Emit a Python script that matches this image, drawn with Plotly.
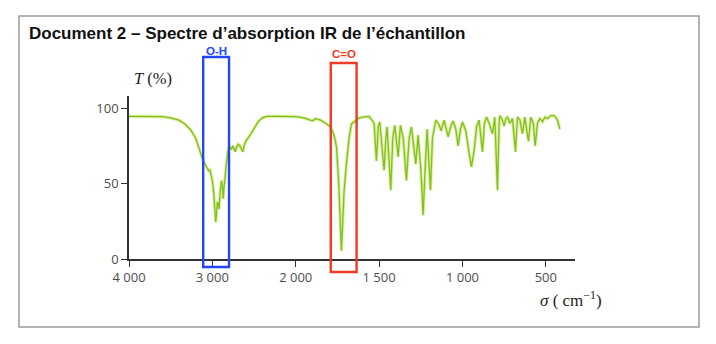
import plotly.graph_objects as go

# ---- data ----
wavenumber = [4000, 3900, 3800, 3700, 3600, 3500, 3400, 3330, 3260, 3200, 3150, 3110, 3080, 3060, 3045,
              3030, 3015, 3000, 2985, 2970, 2960, 2950, 2940, 2930, 2920, 2905, 2890, 2880, 2870, 2860,
              2850, 2835, 2820, 2805, 2785, 2770, 2755, 2740, 2725, 2710, 2690, 2670, 2650, 2635, 2620,
              2600, 2560, 2500, 2450, 2400, 2350, 2200, 2100, 2000, 1950, 1920, 1900, 1880, 1850, 1815,
              1790, 1770, 1755, 1742, 1732, 1726, 1720, 1710, 1696, 1680, 1666, 1640, 1620, 1598, 1560,
              1530, 1516, 1505, 1496, 1470, 1460, 1452, 1430, 1418, 1406, 1386, 1372, 1355, 1336, 1320,
              1306, 1280, 1266, 1250, 1236, 1224, 1212, 1192, 1180, 1160, 1140, 1128, 1110, 1086, 1070,
              1056, 1040, 1026, 1012, 1000, 980, 960, 946, 930, 915, 900, 880, 868, 856, 840,
              820, 806, 790, 780, 776, 760, 750, 740, 730, 715, 700, 682, 670, 655, 640,
              626, 604, 590, 575, 564, 550, 535, 520, 505, 490, 470, 450, 430, 416]
transmittance = [94.5, 94.5, 94.5, 94.5, 94.3, 93.5, 92, 89.5, 85.5, 80, 72, 65, 62, 60, 58.5,
                 59, 56, 52, 45, 32, 24.5, 30, 38, 36, 33, 45, 52, 48, 40, 48,
                 52, 62, 70, 74, 74, 72.5, 75, 73, 71, 74, 76, 75, 72, 71, 75,
                 78, 81, 87, 91, 93.5, 94.5, 94.5, 94.3, 94.3, 93.5, 92, 91.5, 93, 92, 89.5,
                 87.5, 82, 74, 50, 18, 5.5, 20, 45, 63, 80, 89.5, 92, 93.5, 94, 94.5,
                 90, 65, 88, 90.8, 58.8, 80, 87.5, 45.6, 80, 88.6, 67.6, 88.6, 80, 52, 80,
                 87.5, 63, 82, 60, 29, 60, 86, 45.6, 80, 92, 89, 85, 92, 81, 88,
                 91.4, 86, 75, 86, 90.8, 85, 70, 61, 72, 88, 92, 71, 90, 94, 90,
                 83, 94, 45.6, 90, 95, 92, 88, 93, 94, 90, 93, 71, 94, 92, 83,
                 94, 78, 94, 90, 75, 90, 93, 91, 94, 93, 95, 95, 92, 86]

tick_values = [4000, 3000, 2000, 1500, 1000, 500]
tick_labels = ["4 000", "3 000", "2 000", "1 500", "1 000", "500"]
y_ticks = [0, 50, 100]
bands = [("O-H", 3110, 2800, "#2346f5"), ("C=O", 1790, 1635, "#ee3b24")]

# ---- split IR scale: 1000 cm-1 per unit above 2000, 500 cm-1 per unit below ----
def u(s):
    return (4000 - s) / 1000 if s >= 2000 else 2 + (2000 - s) / 500

W, H = 716, 344
L, R, T, B = 129, 141, 96, 85
pw, ph = W - L - R, H - T - B
XMAX = u(325)
YMAX = 108

def px(xpix):
    return (xpix - L) / pw

def py(ypix):
    return (H - B - ypix) / ph

xu = [u(s) for s in wavenumber]

fig = go.Figure()
fig.add_trace(go.Scatter(x=xu, y=transmittance, mode="lines",
                         line=dict(color="rgba(205,232,120,0.75)", width=3.2),
                         hoverinfo="skip", showlegend=False))
fig.add_trace(go.Scatter(x=xu, y=transmittance, mode="lines",
                         line=dict(color="#80c11f", width=1.3),
                         showlegend=False))

shapes = [dict(type="rect", xref="paper", yref="paper",
               x0=px(19), x1=px(699), y0=py(16), y1=py(327),
               line=dict(color="#9a9a9a", width=1.5), fillcolor="rgba(0,0,0,0)", layer="below")]
annotations = []
box_tops = {"O-H": 57, "C=O": 63}
box_bottoms = {"O-H": 267, "C=O": 272}
label_y = {"O-H": 50.5, "C=O": 54}
for name, s0, s1, col in bands:
    x0 = u(s0) / XMAX
    x1 = u(s1) / XMAX
    shapes.append(dict(type="rect", xref="paper", yref="paper",
                       x0=x0, x1=x1, y0=py(box_bottoms[name]), y1=py(box_tops[name]),
                       line=dict(color=col, width=2.4), fillcolor="rgba(0,0,0,0)"))
    annotations.append(dict(xref="paper", yref="paper", x=(x0 + x1) / 2, y=py(label_y[name]),
                            text="<b>%s</b>" % name, showarrow=False, xanchor="center", yanchor="middle",
                            font=dict(family="Liberation Sans, Arial", size=11.5, color=col)))

annotations += [
    dict(xref="paper", yref="paper", x=px(27), y=py(34), xanchor="left", yanchor="middle",
         text="<b>Document 2 – Spectre d’absorption IR de l’échantillon</b>", showarrow=False,
         font=dict(family="Liberation Sans, Arial", size=17, color="#111")),
    dict(xref="paper", yref="paper", x=px(153), y=py(78), xanchor="center", yanchor="middle",
         text="<i>T</i> (%)", showarrow=False,
         font=dict(family="Liberation Serif, DejaVu Serif", size=16.5, color="#222")),
    dict(xref="paper", yref="paper", x=px(571), y=py(299), xanchor="center", yanchor="middle",
         text="<i>σ</i> ( cm<sup>−1</sup>)", showarrow=False,
         font=dict(family="Liberation Serif, DejaVu Serif", size=17, color="#222")),
    dict(xref="x", yref="y", x=0, y=YMAX + 0.8, ax=0, ay=10, text="", showarrow=True,
         arrowhead=2, arrowsize=1, arrowwidth=1.5, arrowcolor="#333"),
]

tick_font = dict(family="Open Sans, Noto Sans", size=13, color="#4d4d4d")
fig.update_layout(
    width=W, height=H, margin=dict(l=L, r=R, t=T, b=B),
    paper_bgcolor="white", plot_bgcolor="white",
    shapes=shapes, annotations=annotations,
    xaxis=dict(range=[0, XMAX], tickvals=[u(v) for v in tick_values], ticktext=tick_labels,
               showline=True, linecolor="#333", linewidth=1.5, ticks="outside", ticklen=6,
               tickcolor="#333", tickwidth=1.3, showgrid=False, zeroline=False, tickfont=tick_font),
    yaxis=dict(range=[0, YMAX], tickvals=y_ticks, showline=True, linecolor="#333", linewidth=1.5,
               ticks="outside", ticklen=6, tickcolor="#333", tickwidth=1.3, showgrid=False,
               zeroline=False, tickfont=tick_font),
)

fig.write_html("out.html")
